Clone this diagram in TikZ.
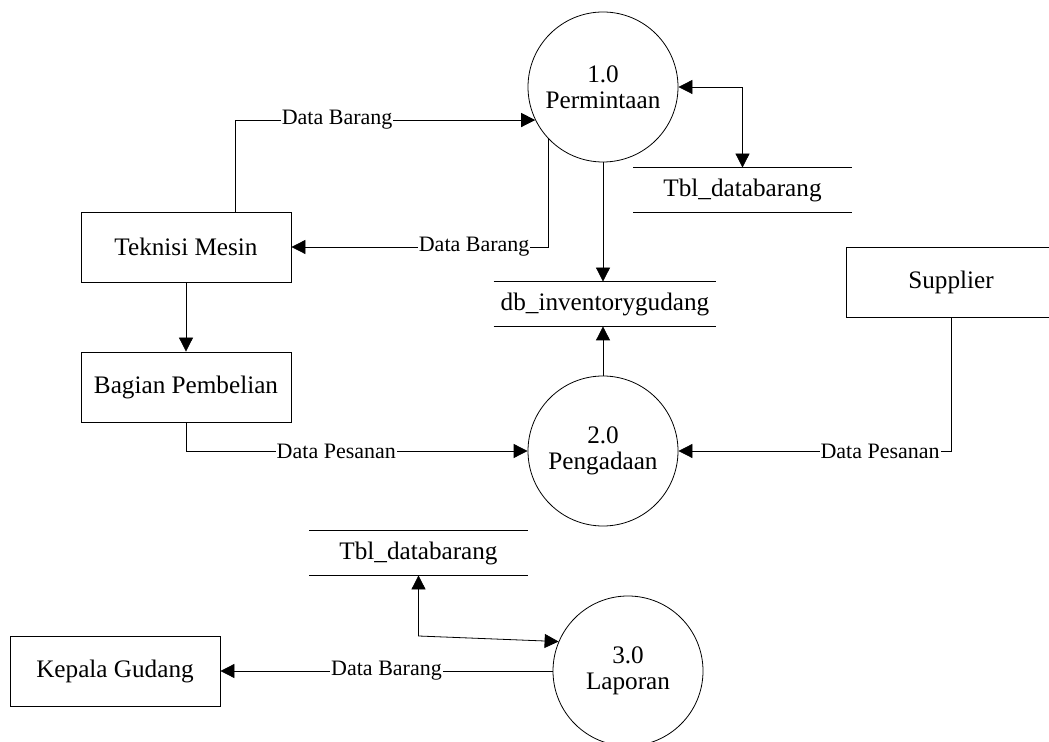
\documentclass[tikz,border=0pt]{standalone}
\usepackage{fontspec}
\setmainfont{Liberation Serif}
\usetikzlibrary{arrows.meta}

\begin{document}
\begin{tikzpicture}[x=0.5pt,y=-0.5pt,
  entity/.style={draw,minimum width=105pt,minimum height=35pt,font=\fontsize{12.6}{14}\selectfont},
  proc/.style={draw,circle,minimum size=75pt,inner sep=0pt,align=center,font=\fontsize{12.6}{13}\selectfont},
  store/.style={minimum width=109pt,minimum height=22pt,font=\fontsize{12.6}{14}\selectfont},
  flow/.style={-{Triangle[length=7pt,width=7pt]}},
  both/.style={{Triangle[length=7pt,width=7pt]}-{Triangle[length=7pt,width=7pt]}},
  lbl/.style={fill=white,inner sep=0.5pt,font=\fontsize{11}{12}\selectfont}]
\clip (0,0) rectangle (1049,742);

% proses
\node[proc] (p1) at (603,87) {1.0\\Permintaan};
\node[proc] (p2) at (603,451) {2.0\\Pengadaan};
\node[proc] (p3) at (628,671) {3.0\\Laporan};

% entitas luar
\node[entity] (tek) at (186,247) {Teknisi Mesin};
\node[entity] (bag) at (186,387) {Bagian Pembelian};
\node[entity] (sup) at (951,282) {Supplier};
\node[entity] (kep) at (115,671) {Kepala Gudang};

% data store
\node[store] (tbl1) at (742.5,190) {Tbl\_databarang};
\node[store] (db) at (605,304) {db\_inventorygudang};
\node[store] (tbl2) at (418.5,553) {Tbl\_databarang};
\foreach \s in {tbl1,db,tbl2}
\draw (\s.north west) -- (\s.north east) (\s.south west) -- (\s.south east);

% aliran data
\draw[flow] ([xshift=24.5pt]tek.north) |- node[lbl,pos=0.67] {Data Barang} (p1.206);
\draw[flow] (p1.224) |- node[lbl,pos=0.645] {Data Barang} (tek.east);
\draw[flow] (p1.south) -- (p1.south |- db.north);
\draw[both] (p1.east) -| (tbl1.north);
\draw[flow] (tek) -- (bag);
\draw[flow] (bag.south) |- node[lbl,pos=0.72] {Data Pesanan} (p2.west);
\draw[flow] (sup.south) |- node[lbl,pos=0.63] {Data Pesanan} (p2.east);
\draw[flow] (p2.north) -- (p2.north |- db.south);
\draw[flow] (p3.west) -- node[lbl] {Data Barang} (kep.east);
\coordinate (bend) at (418.5,636);
\draw[both] (tbl2.south) -- (bend) -- (p3.157);

\end{tikzpicture}
\end{document}
